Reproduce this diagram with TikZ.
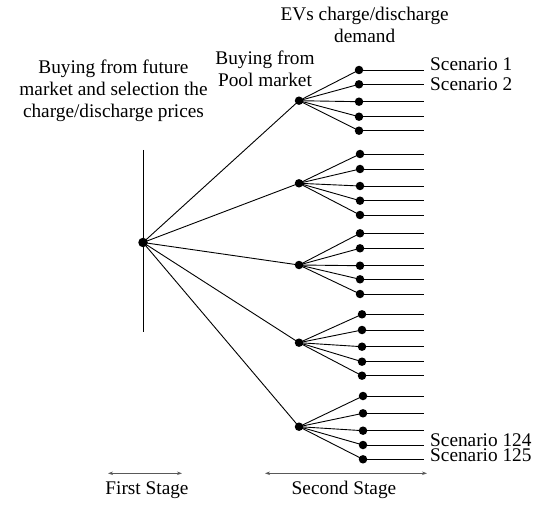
\documentclass[tikz,border=0pt]{standalone}
\usepackage{fontspec}
\setmainfont{Liberation Serif}
\usetikzlibrary{arrows.meta}
\begin{document}
\begin{tikzpicture}[x=1bp,y=-1bp,
  dot/.style={circle,fill=black,inner sep=0pt,minimum size=8.5bp},
  bigdot/.style={circle,fill=black,inner sep=0pt,minimum size=9.5bp},
  edge/.style={draw=black,line width=0.9bp},
  lbl/.style={font=\fontsize{19.3bp}{22bp}\selectfont,inner sep=0pt,align=center},
  scen/.style={lbl,anchor=base west,text height=13bp,text depth=0pt},
  stagearrow/.style={draw=black!65,line width=0.8bp,{Stealth[length=5bp,width=3.5bp]}-{Stealth[length=5bp,width=3.5bp]}}]
\useasboundingbox (0,0) rectangle (533,506);
% first stage
\coordinate (vt) at (143,150);
\coordinate (vb) at (143,332);
\draw[edge] (vt) -- (vb);
\node[bigdot] (r) at (143,242.5) {};
% second level
\node[dot] (m1) at (299,100.7) {};
\node[dot] (m2) at (299,183.3) {};
\node[dot] (m3) at (299,265) {};
\node[dot] (m4) at (299,342.7) {};
\node[dot] (m5) at (299,426.7) {};
\foreach \i in {1,...,5} \draw[edge] (r.center) -- (m\i.center);
% leaves
\foreach \j/\y in {1/70,2/84.3,3/101.7,4/116.7,5/130.7} {
  \node[dot] (l1\j) at (359,\y) {};
  \coordinate (e1\j) at (424,\y);}
\foreach \j/\y in {1/154,2/169,3/186,4/200.7,5/215} {
  \node[dot] (l2\j) at (360,\y) {};
  \coordinate (e2\j) at (424,\y);}
\foreach \j/\y in {1/233.3,2/248.3,3/265.7,4/279.3,5/294} {
  \node[dot] (l3\j) at (360,\y) {};
  \coordinate (e3\j) at (424,\y);}
\foreach \j/\y in {1/314.3,2/330,3/346.7,4/361.7,5/375.7} {
  \node[dot] (l4\j) at (362,\y) {};
  \coordinate (e4\j) at (424,\y);}
\foreach \j/\y in {1/396,2/413.3,3/430.7,4/445,5/459.3} {
  \node[dot] (l5\j) at (363,\y) {};
  \coordinate (e5\j) at (424,\y);}
\foreach \i in {1,...,5} \foreach \j in {1,...,5} {
  \draw[edge] (m\i.center) -- (l\i\j.center);
  \draw[edge] (l\i\j.center) -- (e\i\j);}
% labels
\node[lbl] (t1) at (113.5,91) {Buying from future\\market and selection the\\charge/discharge prices};
\node[lbl] (t2) at (265,69) {Buying from\\Pool market};
\node[lbl] (t3) at (364.7,25) {EVs charge/discharge\\demand};
\node[scen] (s1) at (430,71) {Scenario 1};
\node[scen] (s2) at (430,90.7) {Scenario 2};
\node[scen] (s124) at (430,446) {Scenario 124};
\node[scen] (s125) at (430,461.7) {Scenario 125};
% stages
\coordinate (a1) at (108,473.3);
\coordinate (a2) at (182,473.3);
\coordinate (b1) at (265,473.3);
\coordinate (b2) at (427,473.3);
\draw[stagearrow] (a1) -- (a2);
\draw[stagearrow] (b1) -- (b2);
\node[lbl,anchor=base] (fs) at (147,494.5) {First Stage};
\node[lbl,anchor=base] (ss) at (344,494.5) {Second Stage};
\end{tikzpicture}
\end{document}
